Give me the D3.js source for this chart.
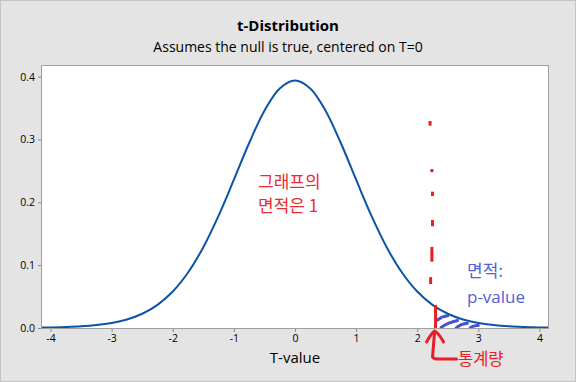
<!DOCTYPE html>
<html>
<head>
<meta charset="utf-8">
<script src="https://cdn.jsdelivr.net/npm/d3@7"></script>
<style>
  body { margin: 0; background: #e4e4e4; }
  svg { display: block; }
  .tick text { font-family: "Open Sans", "Noto Sans", sans-serif; font-size: 10.5px; fill: #000; }
  .tick line { stroke: #888; }
  .domain { display: none; }
</style>
</head>
<body>
<svg width="576" height="382"></svg>
<script>
// t values and density
var tValues = [-4.14, -4, -3.75, -3.5, -3.25, -3, -2.75, -2.5, -2.25, -2, -1.75, -1.5, -1.25, -1, -0.75, -0.5, -0.25,
               0, 0.25, 0.5, 0.75, 1, 1.25, 1.5, 1.75, 2, 2.25, 2.5, 2.75, 3, 3.25, 3.5, 3.75, 4, 4.14];
var density = [0.0006, 0.0008, 0.0015, 0.0026, 0.0046, 0.0080, 0.0136, 0.0227, 0.0369, 0.0581, 0.0883, 0.1286, 0.1788, 0.2360, 0.2944, 0.3458, 0.3813,
               0.3940, 0.3813, 0.3458, 0.2944, 0.2360, 0.1788, 0.1286, 0.0883, 0.0581, 0.0369, 0.0227, 0.0136, 0.0080, 0.0046, 0.0026, 0.0015, 0.0008, 0.0006];

var xTicks = [-4, -3, -2, -1, 0, 1, 2, 3, 4];
var yTicks = [0, 0.1, 0.2, 0.3, 0.4];

// test statistic and the hand drawn marks around it
var tStat = 2.3;
var dashT = [2.21, 2.24, 2.25, 2.25, 2.24, 2.22];
var dashY = [[0.3295, 0.322], [0.253, 0.248], [0.217, 0.210], [0.172, 0.162], [0.129, 0.1055], [0.081, 0.070]];
var hatchT = [[2.33, 2.50], [2.39, 2.66], [2.64, 2.82], [2.87, 3.00]];
var hatchY = [[0.0125, 0.0195], [0.0010, 0.0120], [0.0005, 0.0075], [0.0005, 0.0040]];

var svg = d3.select("svg"),
    width = +svg.attr("width"),
    height = +svg.attr("height");

var pLeft = 42, pRight = 548, pTop = 66, pBottom = 328;

var x = d3.scaleLinear()
    .domain([-4.14, 4.14])
    .range([pLeft, pRight]);

var y = d3.scaleLinear()
    .domain([0, 0.417])
    .range([pBottom, pTop]);

// outer frame
svg.append("rect")
    .attr("x", 0.5).attr("y", 0.5)
    .attr("width", width - 1).attr("height", height - 1)
    .attr("fill", "#e4e4e4")
    .attr("stroke", "#c4c4c4");

svg.append("rect")
    .attr("x", pLeft).attr("y", pTop)
    .attr("width", pRight - pLeft).attr("height", pBottom - pTop)
    .attr("fill", "#fff");

// titles
svg.append("text")
    .attr("x", 288).attr("y", 31)
    .attr("text-anchor", "middle")
    .style("font-family", "'Open Sans', sans-serif")
    .style("font-weight", "bold")
    .style("font-size", "15px")
    .text("t-Distribution");

svg.append("text")
    .attr("x", 288).attr("y", 52)
    .attr("text-anchor", "middle")
    .style("font-family", "'Open Sans', sans-serif")
    .style("font-size", "14px")
    .text("Assumes the null is true, centered on T=0");

svg.append("text")
    .attr("x", x(0)).attr("y", 363)
    .attr("text-anchor", "middle")
    .style("font-family", "'Open Sans', sans-serif")
    .style("font-size", "15px")
    .text("T-value");

// axes
svg.append("g")
    .attr("transform", `translate(0,${pBottom})`)
    .call(d3.axisBottom(x).tickValues(xTicks).tickSize(4).tickPadding(3).tickFormat((d) => String(d)));

svg.append("g")
    .attr("transform", `translate(${pLeft},0)`)
    .call(d3.axisLeft(y).tickValues(yTicks).tickSize(4).tickPadding(3).tickFormat(d3.format(".1f")));

var line = d3.line()
    .x((d, i) => x(tValues[i]))
    .y((d) => y(d))
    .curve(d3.curveCatmullRom);

// hatching in the tail
svg.selectAll(".hatch")
    .data(hatchT)
    .enter().append("path")
    .attr("class", "hatch")
    .attr("d", (d, i) => {
        var x0 = x(d[0]), y0 = y(hatchY[i][0]), x1 = x(d[1]), y1 = y(hatchY[i][1]);
        return `M${x0},${y0} Q${(x0 + x1) / 2 - 1},${(y0 + y1) / 2 - 1.5} ${x1},${y1}`;
    })
    .attr("fill", "none")
    .attr("stroke", "#4a52cf")
    .attr("stroke-width", 3)
    .attr("stroke-linecap", "round");

svg.append("path")
    .datum(density)
    .attr("d", line)
    .attr("fill", "none")
    .attr("stroke", "#0a55a5")
    .attr("stroke-width", 2);

// plot frame
svg.append("rect")
    .attr("x", pLeft - 0.5).attr("y", pTop - 0.5)
    .attr("width", pRight - pLeft + 1).attr("height", pBottom - pTop + 1)
    .attr("fill", "none")
    .attr("stroke", "#a0a0a0");

// red dashed marker
svg.selectAll(".dash")
    .data(dashY)
    .enter().append("line")
    .attr("class", "dash")
    .attr("x1", (d, i) => x(dashT[i]))
    .attr("x2", (d, i) => x(dashT[i]))
    .attr("y1", (d) => y(d[0]))
    .attr("y2", (d) => y(d[1]))
    .attr("stroke", "#ec1c24")
    .attr("stroke-width", 3);

svg.append("line")
    .attr("x1", x(tStat)).attr("x2", x(tStat))
    .attr("y1", y(0.0366)).attr("y2", y(0))
    .attr("stroke", "#ec1c24")
    .attr("stroke-width", 3);

// arrow to the statistic
var ax = x(tStat) - 1;
svg.append("path")
    .attr("d", `M${ax - 8},${pBottom + 14} Q${ax - 3},${pBottom + 5} ${ax},${pBottom + 3} Q${ax + 4},${pBottom + 5} ${ax + 9},${pBottom + 14}`)
    .attr("fill", "none")
    .attr("stroke", "#ec1c24")
    .attr("stroke-width", 3)
    .attr("stroke-linecap", "round");

svg.append("path")
    .attr("d", `M${ax},${pBottom + 4} L${ax - 2},${pBottom + 29} Q${ax - 1},${pBottom + 31} ${ax + 4},${pBottom + 31} L${ax + 22},${pBottom + 31}`)
    .attr("fill", "none")
    .attr("stroke", "#ec1c24")
    .attr("stroke-width", 3)
    .attr("stroke-linecap", "round");

// annotations
var kr = "'Noto Sans CJK KR', sans-serif";

svg.append("text")
    .attr("x", 458).attr("y", 365)
    .style("font-family", kr).style("font-size", "16.5px")
    .attr("fill", "#ec1c24")
    .text("통계량");

svg.append("text")
    .attr("x", 258).attr("y", 188)
    .style("font-family", kr).style("font-size", "17px")
    .attr("fill", "#ec2a33")
    .text("그래프의");

svg.append("text")
    .attr("x", 258).attr("y", 212)
    .style("font-family", kr).style("font-size", "17px")
    .attr("fill", "#ec2a33")
    .text("면적은 1");

svg.append("text")
    .attr("x", 467).attr("y", 277)
    .style("font-family", kr).style("font-size", "17px")
    .attr("fill", "#5560d6")
    .text("면적:");

svg.append("text")
    .attr("x", 467).attr("y", 303)
    .style("font-family", "'Open Sans', sans-serif").style("font-size", "17px")
    .attr("fill", "#5560d6")
    .text("p-value");
</script>
</body>
</html>
